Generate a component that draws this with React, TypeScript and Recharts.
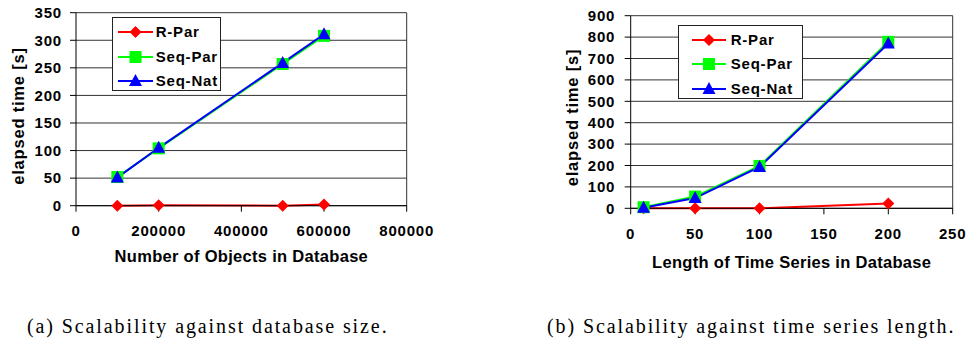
import React from "react";
import { LineChart, Line, XAxis, YAxis, CartesianGrid, Legend, ReferenceLine, Label } from "recharts";

// (a) scalability against database size
const sizeX = [100000, 200000, 500000, 600000];
const sizeRPar = [0, 1, 0, 2];
const sizeSeqPar = [52, 104, 257, 308];
const sizeSeqNat = [51, 105, 259, 311];
const sizeXTicks = [0, 200000, 400000, 600000, 800000];
const sizeYTicks = [0, 50, 100, 150, 200, 250, 300, 350];

// (b) scalability against time series length
const lenX = [10, 50, 100, 200];
const lenRPar = [0, 0, 0, 23];
const lenSeqPar = [5, 55, 198, 778];
const lenSeqNat = [3, 48, 193, 770];
const lenXTicks = [0, 50, 100, 150, 200, 250];
const lenYTicks = [0, 100, 200, 300, 400, 500, 600, 700, 800, 900];

const seriesOrder = ["R-Par", "Seq-Par", "Seq-Nat"];

const RED = "#ff0000";
const GREEN = "#00ff00";
const BLUE = "#0000ff";
const GRID = "#333";
const FONT = "'Liberation Sans', Arial, sans-serif";

const sizeData = sizeX.map((x, i) => ({ x, rpar: sizeRPar[i], seqpar: sizeSeqPar[i], seqnat: sizeSeqNat[i] }));
const lenData = lenX.map((x, i) => ({ x, rpar: lenRPar[i], seqpar: lenSeqPar[i], seqnat: lenSeqNat[i] }));

function Marker({ kind, cx, cy }: { kind: string; cx: number; cy: number }) {
  if (kind === "R-Par") {
    const r = 6;
    return <path d={`M${cx},${cy - r}L${cx + r},${cy}L${cx},${cy + r}L${cx - r},${cy}Z`} fill={RED} />;
  }
  if (kind === "Seq-Par") {
    return <rect x={cx - 6} y={cy - 6} width={12} height={12} fill={GREEN} />;
  }
  return <path d={`M${cx},${cy - 7}L${cx + 6.5},${cy + 5}L${cx - 6.5},${cy + 5}Z`} fill={BLUE} />;
}

const dotFor = (kind: string) => (p: any) =>
  <Marker key={`${kind}-${p.index}`} kind={kind} cx={p.cx} cy={p.cy} />;

function LegendBox({ payload, lineX, lineW, textX }: any) {
  const items = [...(payload || [])].sort((a: any, b: any) => seriesOrder.indexOf(a.value) - seriesOrder.indexOf(b.value));
  return (
    <div style={{ border: "1px solid #222", background: "#fff", boxSizing: "border-box", height: 74, paddingTop: 2 }}>
      {items.map((e: any) => (
        <div key={e.value} style={{ position: "relative", height: 24.3 }}>
          <svg width={lineX + lineW + 8} height={24} style={{ position: "absolute", left: 0, top: 0 }}>
            <line x1={lineX} x2={lineX + lineW} y1={12} y2={12} stroke={e.color} strokeWidth={2} />
            <Marker kind={e.value} cx={lineX + lineW / 2} cy={12} />
          </svg>
          <span style={{ position: "absolute", left: textX, top: 3, fontSize: 15, fontWeight: "bold", lineHeight: "18px", color: "#000" }}>
            {e.value}
          </span>
        </div>
      ))}
    </div>
  );
}

const yTitle = (cx: number, cy: number) => () => (
  <text x={cx} y={cy} transform={`rotate(-90, ${cx}, ${cy})`} textAnchor="middle" dominantBaseline="central"
    fontSize={16.5} fontWeight="bold" fill="#000">
    elapsed time [s]
  </text>
);

const tickStyle = { fill: "#000", fontSize: 15, fontWeight: "bold" };
const captionStyle: React.CSSProperties = {
  position: "absolute", top: 316, fontFamily: "'Liberation Serif', serif", fontSize: 20,
  lineHeight: "20px", letterSpacing: "1.9px", whiteSpace: "nowrap", color: "#000",
};

export default function App() {
  return (
    <div style={{ position: "absolute", left: 0, top: 0, width: 966, height: 339, background: "#fff", fontFamily: FONT, letterSpacing: "0.8px" }}>
      <div style={{ position: "absolute", left: 0, top: 0 }}>
        <LineChart width={480} height={280} data={sizeData} margin={{ top: 12.7, right: 73.3, bottom: 0, left: 0 }}>
          <CartesianGrid vertical={false} stroke={GRID} />
          <XAxis dataKey="x" type="number" domain={[0, 800000]} ticks={sizeXTicks} height={74.3}
            tick={tickStyle} tickSize={6} tickMargin={14} stroke="#000" interval={0}>
            <Label value="Number of Objects in Database" position="insideBottom" offset={18}
              style={{ fontSize: 16.5, fontWeight: "bold", fill: "#000", letterSpacing: "0.3px" }} />
          </XAxis>
          <YAxis type="number" domain={[0, 350]} ticks={sizeYTicks} width={76} tick={tickStyle}
            tickSize={6} tickMargin={8} stroke="#000" interval={0}>
            <Label content={yTitle(18, 116)} />
          </YAxis>
          <ReferenceLine x={800000} stroke={GRID} />
          <Legend layout="vertical" align="center" verticalAlign="middle"
            wrapperStyle={{ left: 111.7, top: 17.3, width: 109 }}
            content={(p: any) => <LegendBox payload={p.payload} lineX={5} lineW={35} textX={43} />} />
          <Line dataKey="rpar" name="R-Par" stroke={RED} strokeWidth={2} dot={dotFor("R-Par")} activeDot={false} isAnimationActive={false} />
          <Line dataKey="seqpar" name="Seq-Par" stroke={GREEN} strokeWidth={2} dot={dotFor("Seq-Par")} activeDot={false} isAnimationActive={false} />
          <Line dataKey="seqnat" name="Seq-Nat" stroke={BLUE} strokeWidth={2} dot={dotFor("Seq-Nat")} activeDot={false} isAnimationActive={false} />
        </LineChart>
      </div>
      <div style={{ position: "absolute", left: 480, top: 0 }}>
        <LineChart width={486} height={280} data={lenData} margin={{ top: 15.7, right: 13.3, bottom: 0, left: 0 }}>
          <CartesianGrid vertical={false} stroke={GRID} />
          <XAxis dataKey="x" type="number" domain={[0, 250]} ticks={lenXTicks} height={71.7}
            tick={tickStyle} tickSize={6} tickMargin={14} stroke="#000" interval={0}>
            <Label value="Length of Time Series in Database" position="insideBottom" offset={12}
              style={{ fontSize: 16.5, fontWeight: "bold", fill: "#000", letterSpacing: "0.3px" }} />
          </XAxis>
          <YAxis type="number" domain={[0, 900]} ticks={lenYTicks} width={150.7} tick={tickStyle}
            tickSize={6} tickMargin={9.5} stroke="#000" interval={0}>
            <Label content={yTitle(92, 117.5)} />
          </YAxis>
          <ReferenceLine x={250} stroke={GRID} />
          <Legend layout="vertical" align="center" verticalAlign="middle"
            wrapperStyle={{ left: 197.7, top: 25, width: 125 }}
            content={(p: any) => <LegendBox payload={p.payload} lineX={13} lineW={34} textX={52} />} />
          <Line dataKey="rpar" name="R-Par" stroke={RED} strokeWidth={2} dot={dotFor("R-Par")} activeDot={false} isAnimationActive={false} />
          <Line dataKey="seqpar" name="Seq-Par" stroke={GREEN} strokeWidth={2} dot={dotFor("Seq-Par")} activeDot={false} isAnimationActive={false} />
          <Line dataKey="seqnat" name="Seq-Nat" stroke={BLUE} strokeWidth={2} dot={dotFor("Seq-Nat")} activeDot={false} isAnimationActive={false} />
        </LineChart>
      </div>
      <div style={{ ...captionStyle, left: 27 }}>(a) Scalability against database size.</div>
      <div style={{ ...captionStyle, left: 547 }}>(b) Scalability against time series length.</div>
    </div>
  );
}
